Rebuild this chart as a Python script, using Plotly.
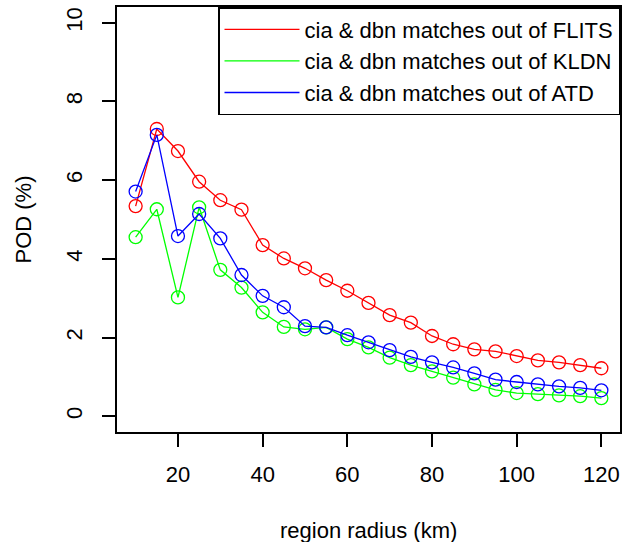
import plotly.graph_objects as go

radius_km = [10, 15, 20, 25, 30, 35, 40, 45, 50, 55, 60, 65, 70, 75, 80, 85, 90, 95, 100, 105, 110, 115, 120]
pod_flits = [5.34, 7.30, 6.74, 5.96, 5.49, 5.25, 4.35, 4.01, 3.76, 3.46, 3.19, 2.88, 2.57, 2.38, 2.04, 1.83, 1.70, 1.65, 1.53, 1.42, 1.37, 1.30, 1.22]
pod_kldn = [4.55, 5.26, 3.02, 5.31, 3.72, 3.27, 2.64, 2.27, 2.21, 2.26, 1.96, 1.75, 1.49, 1.30, 1.14, 0.98, 0.81, 0.67, 0.59, 0.56, 0.53, 0.51, 0.46]
pod_atd = [5.71, 7.15, 4.58, 5.14, 4.52, 3.59, 3.06, 2.77, 2.29, 2.26, 2.06, 1.88, 1.68, 1.51, 1.37, 1.24, 1.09, 0.93, 0.87, 0.81, 0.76, 0.72, 0.66]

series_names = ["cia & dbn matches out of FLITS", "cia & dbn matches out of KLDN", "cia & dbn matches out of ATD"]
series_colors = ["#FF0000", "#00FF00", "#0000FF"]
x_ticks = [20, 40, 60, 80, 100, 120]
y_ticks = [0, 2, 4, 6, 8, 10]

FONT = "Liberation Sans, Arial, sans-serif"

fig = go.Figure()
for name, vals, col in zip(series_names, [pod_flits, pod_kldn, pod_atd], series_colors):
    fig.add_trace(go.Scatter(
        x=radius_km, y=vals, mode="lines+markers", showlegend=False,
        line=dict(color=col, width=1.3),
        marker=dict(symbol="circle-open", size=13, color=col, line=dict(width=1.3, color=col)),
    ))
for name, col in zip(series_names, series_colors):
    fig.add_trace(go.Scatter(x=[None], y=[None], mode="lines", name=name,
                             line=dict(color=col, width=1.3)))

axis_common = dict(showline=True, linecolor="black", linewidth=1.5, mirror=True,
                   ticks="outside", ticklen=13, tickwidth=1.5, tickcolor="black",
                   showgrid=False, zeroline=False,
                   tickfont=dict(family=FONT, size=22, color="black"))

fig.update_xaxes(range=[5.6, 124.4], tickvals=x_ticks, **axis_common, ticklabelstandoff=9)
fig.update_yaxes(range=[-0.4, 10.4], tickvals=y_ticks, tickangle=-90, **axis_common, ticklabelstandoff=11)

fig.update_layout(
    width=623, height=542,
    margin=dict(l=117, r=1, t=7, b=110),
    plot_bgcolor="white", paper_bgcolor="white",
    font=dict(family=FONT, size=22, color="black"),
    legend=dict(x=1, y=1, xanchor="right", yanchor="top",
                bordercolor="black", borderwidth=1.5, bgcolor="white",
                font=dict(family=FONT, size=22, color="black"),
                itemwidth=75, tracegroupgap=0),
    annotations=[
        dict(text="region radius (km)", xref="paper", yref="paper", x=0.5, y=0,
             xanchor="center", yanchor="middle", yshift=-98, showarrow=False,
             font=dict(family=FONT, size=22, color="black")),
        dict(text="POD (%)", xref="paper", yref="paper", x=0, y=0.5,
             xanchor="center", yanchor="middle", xshift=-94, textangle=-90, showarrow=False,
             font=dict(family=FONT, size=22, color="black")),
    ],
)

fig.write_html("out.html")
